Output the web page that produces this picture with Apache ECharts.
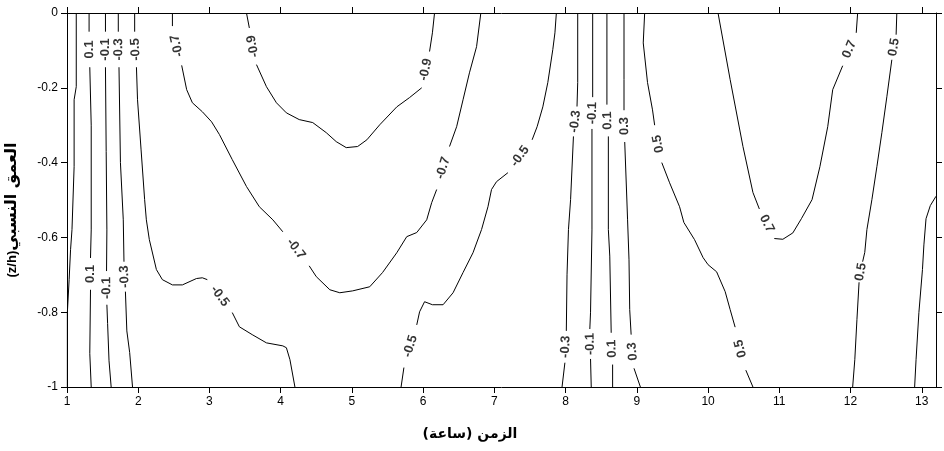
<!DOCTYPE html>
<html><head><meta charset="utf-8">
<script src="https://cdn.jsdelivr.net/npm/echarts@6/dist/echarts.min.js"></script>
<style>html,body{margin:0;padding:0;background:#fff}#c{width:944px;height:451px}</style>
</head><body><div id="c"></div><script>
// ---- tick labels and titles ----
const xTicks = [1,2,3,4,5,6,7,8,9,10,11,12,13];
const yTicks = [0,-0.2,-0.4,-0.6,-0.8,-1];
const xTitle = 'الزمن (ساعة)\u200F';
const yTitleLatin = '(z/h)';
const yTitleArabic = 'العمق النسبي';

// ---- contour lines: [time (h), relative depth z/h]; gaps between pieces hold the inline labels ----
const edgeLeft = {level:0.3, labelled:false, pieces:[
  [[1.13,0],[1.13,-0.197],[1.10,-0.232],[1.10,-0.411],[1.07,-0.579],[1.05,-0.633],[1.03,-0.713],[1.005,-0.801],[1.005,-1.0]]]};
const leftP01 = {level:0.1, labelled:true, pieces:[
  [[1.31,0],[1.31,-0.05]],
  [[1.32,-0.145],[1.34,-0.30],[1.34,-0.58],[1.33,-0.655]],
  [[1.33,-0.74],[1.32,-0.91],[1.34,-1.0]]]};
const leftM01 = {level:-0.1, labelled:true, pieces:[
  [[1.54,0],[1.54,-0.05]],
  [[1.54,-0.145],[1.55,-0.37],[1.56,-0.58],[1.555,-0.69]],
  [[1.56,-0.78],[1.57,-0.83],[1.59,-0.93],[1.62,-1.0]]]};
const leftM03 = {level:-0.3, labelled:true, pieces:[
  [[1.72,0],[1.72,-0.05]],
  [[1.73,-0.145],[1.75,-0.40],[1.79,-0.553],[1.80,-0.665]],
  [[1.82,-0.745],[1.84,-0.85],[1.88,-0.908],[1.92,-1.0]]]};
const leftM05 = {level:-0.5, labelled:true, pieces:[
  [[1.95,0],[1.95,-0.05]],
  [[1.975,-0.145],[1.99,-0.232],[2.04,-0.366],[2.09,-0.499],[2.114,-0.553],[2.156,-0.606],[2.255,-0.686],[2.339,-0.713],[2.48,-0.727],[2.62,-0.727],[2.817,-0.710],[2.90,-0.708],[2.97,-0.713]],
  [[3.32,-0.801],[3.42,-0.839],[3.60,-0.860],[3.80,-0.882],[4.03,-0.890],[4.08,-0.895],[4.13,-0.927],[4.20,-1.0]]]};
const midM07 = {level:-0.7, labelled:true, pieces:[
  [[2.48,0],[2.48,-0.035]],
  [[2.61,-0.14],[2.68,-0.205],[2.76,-0.240],[2.90,-0.264],[3.03,-0.291],[3.14,-0.325],[3.32,-0.392],[3.52,-0.464],[3.70,-0.518],[3.89,-0.553],[4.03,-0.585]],
  [[4.40,-0.676],[4.50,-0.705],[4.69,-0.740],[4.83,-0.748],[5.01,-0.743],[5.25,-0.732],[5.43,-0.694],[5.63,-0.641],[5.77,-0.598],[5.91,-0.587],[6.05,-0.553],[6.12,-0.507],[6.19,-0.472]],
  [[6.37,-0.357],[6.47,-0.304],[6.56,-0.232],[6.65,-0.160],[6.75,-0.090],[6.81,0]]]};
const midM09 = {level:-0.9, labelled:true, pieces:[
  [[3.52,0],[3.56,-0.04]],
  [[3.66,-0.138],[3.80,-0.197],[3.94,-0.240],[4.08,-0.267],[4.26,-0.285],[4.45,-0.293],[4.64,-0.320],[4.78,-0.344],[4.92,-0.360],[5.08,-0.357],[5.21,-0.339],[5.39,-0.299],[5.63,-0.251],[5.81,-0.226],[5.98,-0.200]],
  [[6.09,-0.103],[6.13,-0.053],[6.16,0]]]};
const rightM05 = {level:-0.5, labelled:true, pieces:[
  [[7.87,0],[7.85,-0.053],[7.82,-0.098],[7.75,-0.186],[7.68,-0.251],[7.60,-0.304],[7.53,-0.339]],
  [[7.19,-0.427],[7.03,-0.451],[6.96,-0.472],[6.91,-0.518],[6.82,-0.579],[6.75,-0.615],[6.70,-0.641],[6.56,-0.694],[6.42,-0.748],[6.28,-0.780],[6.13,-0.780],[6.02,-0.772],[5.95,-0.799],[5.91,-0.834]],
  [[5.73,-0.948],[5.69,-1.0]]]};
const rightM03 = {level:-0.3, labelled:true, pieces:[
  [[8.17,0],[8.17,-0.186],[8.16,-0.25]],
  [[8.11,-0.33],[8.07,-0.499],[8.04,-0.579],[8.02,-0.70],[8.01,-0.85]],
  [[7.99,-0.935],[7.95,-1.0]]]};
const rightM01 = {level:-0.1, labelled:true, pieces:[
  [[8.38,0],[8.38,-0.225]],
  [[8.37,-0.31],[8.37,-0.58],[8.35,-0.80],[8.34,-0.845]],
  [[8.35,-0.925],[8.36,-1.0]]]};
const rightP01 = {level:0.1, labelled:true, pieces:[
  [[8.58,0],[8.58,-0.245]],
  [[8.60,-0.33],[8.60,-0.579],[8.62,-0.65],[8.64,-0.855]],
  [[8.66,-0.94],[8.66,-1.0]]]};
const rightP03 = {level:0.3, labelled:true, pieces:[
  [[8.82,0],[8.82,-0.178],[8.82,-0.26]],
  [[8.83,-0.345],[8.86,-0.50],[8.87,-0.553],[8.89,-0.66],[8.90,-0.793],[8.92,-0.86]],
  [[8.96,-0.95],[9.05,-1.0]]]};
const rightP05a = {level:0.5, labelled:true, pieces:[
  [[9.11,0],[9.09,-0.08],[9.15,-0.186],[9.22,-0.259],[9.25,-0.30]],
  [[9.35,-0.40],[9.46,-0.454],[9.60,-0.518],[9.66,-0.56],[9.81,-0.606],[9.93,-0.654],[10.00,-0.673],[10.12,-0.692],[10.24,-0.745],[10.31,-0.793],[10.38,-0.84]],
  [[10.53,-0.955],[10.63,-1.0]]]};
const rightP07 = {level:0.7, labelled:true, pieces:[
  [[10.14,0],[10.31,-0.178],[10.49,-0.357],[10.63,-0.48],[10.72,-0.524]],
  [[10.93,-0.603],[11.05,-0.605],[11.19,-0.588],[11.31,-0.55],[11.46,-0.499],[11.57,-0.411],[11.68,-0.304],[11.75,-0.205],[11.89,-0.141]],
  [[12.08,-0.053],[12.10,0]]]};
const rightP05b = {level:0.5, labelled:true, pieces:[
  [[12.65,0],[12.64,-0.058]],
  [[12.58,-0.125],[12.51,-0.224],[12.44,-0.320],[12.37,-0.411],[12.30,-0.499],[12.23,-0.579],[12.20,-0.64],[12.17,-0.665]],
  [[12.12,-0.72],[12.09,-0.82],[12.06,-0.927],[12.03,-1.0]]]};
const edgeRight = {level:0.3, labelled:false, pieces:[
  [[13.2,-0.49],[13.12,-0.515],[13.06,-0.55],[13.03,-0.62],[13.01,-0.686],[12.96,-0.801],[12.92,-0.927],[12.90,-1.0]]]};

const contours = [edgeLeft,leftP01,leftM01,leftM03,leftM05,midM07,midM09,rightM05,rightM03,rightM01,rightP01,rightP03,rightP05a,rightP07,rightP05b,edgeRight];

// ---- chart ----
const FONT = '"Liberation Sans", Arial, sans-serif';
const AR_FONT = '"DejaVu Sans", sans-serif';
const chart = echarts.init(document.getElementById('c'), null, {renderer:'canvas'});

function axisBase(extra){
  return Object.assign({
    type:'value',
    axisLine:{show:true, onZero:false, lineStyle:{color:'#000', width:1}},
    splitLine:{show:false},
  }, extra);
}

const lineSeries = [];
contours.forEach(c => {
  c.pieces.forEach(p => {
    lineSeries.push({
      type:'line', data:p, xAxisIndex:0, yAxisIndex:0,
      showSymbol:false, symbol:'none', silent:true, animation:false,
      lineStyle:{color:'#000', width:1}, z:2
    });
  });
});

const option = {
  animation:false,
  backgroundColor:'#fff',
  grid:{left:67, right:8, top:13, bottom:64, containLabel:false},
  xAxis:[
    axisBase({position:'bottom', min:1, max:13.2,
      axisTick:{show:true, inside:false, length:6, lineStyle:{color:'#000'}, customValues:xTicks},
      axisLabel:{show:true, customValues:xTicks, formatter:v=>String(v), color:'#000', fontSize:12, fontFamily:FONT, margin:9}}),
    axisBase({position:'top', min:1, max:13.2,
      axisTick:{show:true, inside:false, length:6, lineStyle:{color:'#000'}, customValues:xTicks},
      axisLabel:{show:false}})
  ],
  yAxis:[
    axisBase({position:'left', min:-1, max:0,
      axisTick:{show:true, inside:false, length:6, lineStyle:{color:'#000'}, customValues:yTicks},
      axisLabel:{show:true, customValues:yTicks, formatter:v=>String(v), color:'#000', fontSize:12, fontFamily:FONT, margin:9}}),
    axisBase({position:'right', min:-1, max:0,
      axisTick:{show:true, inside:false, length:6, lineStyle:{color:'#000'}, customValues:yTicks},
      axisLabel:{show:false}})
  ],
  graphic:[
    {type:'text', x:470, y:434, style:{text:xTitle, font:'bold 14px ' + AR_FONT, fill:'#000', align:'center', verticalAlign:'middle'}},
    {type:'text', x:12, y:210, rotation:Math.PI/2, style:{
      text:'{a|' + yTitleLatin + '}{b|' + yTitleArabic + '}', align:'center', verticalAlign:'middle',
      rich:{
        a:{font:'bold 13px ' + FONT, fill:'#000', color:'#000'},
        b:{font:'bold 16px ' + AR_FONT, fill:'#000', color:'#000'}
      }}}
  ],
  series:lineSeries
};
chart.setOption(option);

// ---- inline contour labels: placed in the gaps, rotated along the line ----
const labelData = [];
contours.forEach(c => {
  if (!c.labelled) return;
  for (let i = 0; i < c.pieces.length - 1; i++) {
    const a = c.pieces[i][c.pieces[i].length - 1];
    const b = c.pieces[i + 1][0];
    const pa = chart.convertToPixel({xAxisIndex:0, yAxisIndex:0}, a);
    const pb = chart.convertToPixel({xAxisIndex:0, yAxisIndex:0}, b);
    let ang = Math.atan2(-(pb[1] - pa[1]), pb[0] - pa[0]) * 180 / Math.PI;
    while (ang > 105) ang -= 180;
    while (ang <= -75) ang += 180;
    labelData.push({
      value:[(a[0] + b[0]) / 2, (a[1] + b[1]) / 2],
      label:{formatter:c.level.toFixed(1), rotate:ang}
    });
  }
});
chart.setOption({series: lineSeries.concat([{
  type:'scatter', data:labelData, xAxisIndex:0, yAxisIndex:0,
  symbolSize:1, itemStyle:{color:'rgba(0,0,0,0)'}, silent:true, animation:false, clip:false, z:5,
  label:{show:true, position:'inside', color:'#000', fontWeight:'bold', fontSize:13, fontFamily:FONT}
}])});
</script></body></html>
